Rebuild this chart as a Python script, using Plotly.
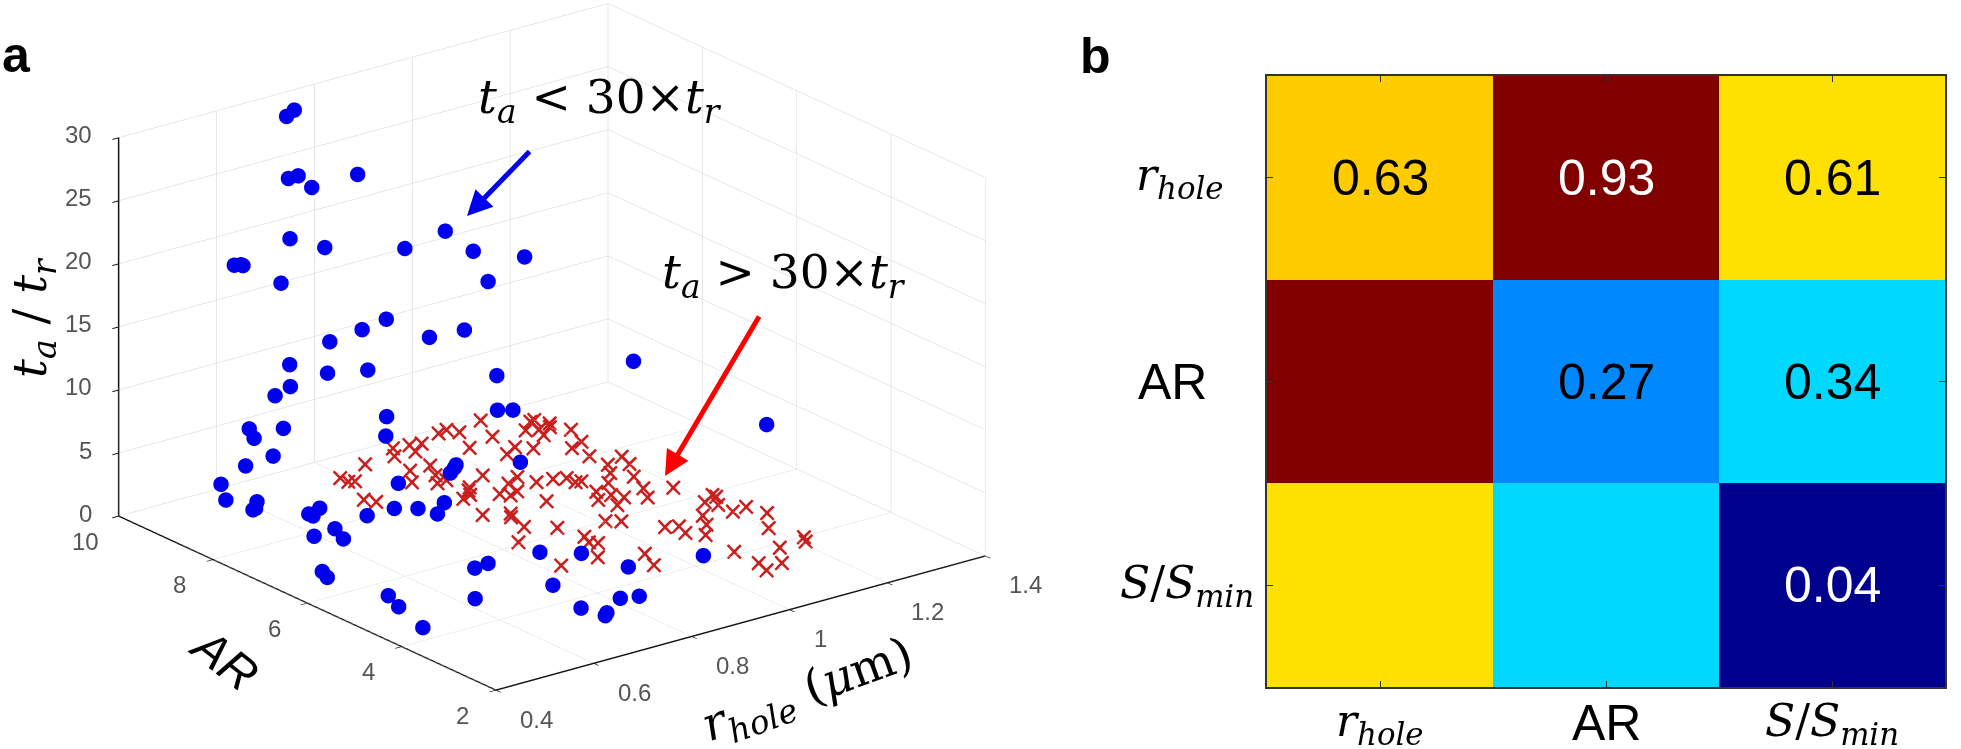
"""
Panel a: 3D scatter of t_a/t_r against r_hole and AR.
Panel b: correlation map of r_hole, AR and S/S_min.
"""
import plotly.graph_objects as go

W = 1961
H = 749

# --- PANEL A DATA ---
R_BLUE = [.72, .71, .68, .70, .78, .72, .91, .69, .71, .81, .89, .94, .58, .59, .59, .93, .66, .80, .74, .87,
          .84, .70, 1.07, .62, .74, .68, .89, .63, .62, .90, .92, .74, 1.24, .60, .61, .58, .72, .59, .89, .80,
          .58, .79, .77, .71, .55, .53, .53, .51, .52, .67, .70, .75, .71, .61, .58, .58, .65, .59, .56, .59,
          .77, .82, .97, .69, .66, .86, .49, .48, .73, .49, .60, .78, .81, .49, .72, .74, .73, .47]
AR_BLUE = [9.6, 9.66, 9.31, 9.31, 8.88, 9.23, 8.37, 9.38, 8.85, 8.19, 7.57, 7.0, 9.42, 9.38, 9.34, 7.67, 9.26, 8.48, 8.37, 7.55,
           7.98, 8.64, 6.04, 8.66, 8.25, 8.48, 7.07, 8.75, 8.97, 7.16, 7.04, 7.85, 4.98, 9.31, 8.69, 9.0, 7.66, 8.7, 6.57, 7.0,
           9.18, 6.93, 6.81, 7.29, 9.39, 9.08, 8.42, 8.24, 8.4, 6.96, 6.77, 6.73, 6.46, 7.92, 7.84, 7.75, 7.33, 7.39, 7.52, 7.21,
           4.91, 4.55, 3.52, 5.18, 5.15, 3.97, 6.62, 6.41, 4.22, 5.22, 4.52, 3.31, 3.22, 5.0, 3.52, 3.18, 3.11, 4.28]
TA_BLUE = [29.5, 29, 25, 25, 25, 24, 20, 20, 20, 20, 20, 20, 19, 19, 19, 17, 17, 14, 14, 14,
           13, 13, 12, 12, 11, 11, 11, 10, 9, 8, 8, 8, 7, 6, 7, 6, 7, 5, 5, 5,
           3.5, 5, 5, 4, 2, 1.5, 2.5, 2.5, 2, 3, 3, 3, 3, 2, 2, 2, 2, 1.5, 1, 1,
           2, 2, 2, 1.5, 1.5, 1.5, .5, .5, 1, 1, .8, 1, 1, .5, .5, .5, .5, .3]

R_RED = [1.13, 1.10, 1.04, 1.07, 1.10, 1.12, 1.16, 1.20, 1.18, 1.17, 1.20, 1.22, 1.17, 1.20, 1.17, 1.07, 1.04, 1.06, .99, .97,
         .96, .94, .92, .86, .79, .79, .80, .90, .87, .94, .92, .90, .92, .76, .77, .89, .92, .93, .98, .87,
         .95, .99, .96, .98, 1.02, .91, .90, .99, 1.03, 1.06, 1.08, 1.08, 1.09, .89, .84, .93, .94, .93, .94, .90,
         .83, 1.01, 1.03, 1.17, 1.21, 1.20, 1.17, 1.15, 1.12, 1.08, 1.06, 1.09, 1.07, 1.10, 1.15, 1.13, 1.19, 1.07, 1.09, 1.08,
         .97, .95, 1.19, 1.22, 1.15, 1.10, 1.20, 1.23, 1.24, 1.20, 1.09, 1.16, 1.09, 1.08, 1.12, 1.21, 1.20, 1.19, 1.21, .91,
         1.22, 1.22, 1.13]
AR_RED = [9.9, 9.34, 9.2, 8.72, 8.86, 8.68, 9.26, 9.49, 9.18, 8.98, 9.16, 8.92, 8.38, 8.49, 8.01, 9.73, 9.86, 9.9, 9.7, 9.75,
          9.52, 9.79, 9.55, 9.55, 9.35, 9.18, 9.14, 9.01, 8.66, 9.0, 8.68, 8.43, 8.45, 8.54, 8.38, 7.78, 7.98, 8.06, 8.3, 7.16,
          7.63, 7.86, 7.5, 7.57, 7.98, 6.98, 6.87, 7.05, 7.68, 7.64, 7.56, 7.37, 7.35, 6.49, 6.09, 6.2, 5.73, 5.53, 5.44, 5.03,
          5.08, 6.01, 5.88, 7.62, 7.74, 7.47, 7.07, 7.36, 7.09, 6.93, 6.68, 6.72, 6.38, 6.55, 6.66, 6.36, 6.44, 5.37, 5.28, 5.04,
          4.76, 4.36, 5.77, 5.84, 5.4, 4.82, 5.28, 5.31, 4.97, 4.52, 4.11, 3.87, 3.59, 3.32, 3.41, 3.84, 5.59, 9.47, 9.27, 7.84,
          3.98, 5.92, 5.11]
TA_RED = [0, 0, 0, 0, 0, 0, 0, 0, 0, 0, 0, 0, 0, 0, 0, 0, 0, 0, 0, 0,
          0, 0, 0, 0, 0, 0, 0, 0, 0, 0, 0, 0, 0, 0, 0, 0, 0, 0, 0, 0,
          0, 0, 0, 0, 0, 0, 0, 0, 0, 0, 0, 0, 0, 0, 0, 0, 0, 0, 0, 0,
          0, 0, 0, 0, 0, 0, 0, 0, 0, 0, 0, 0, 0, 0, 0, 0, 0, 0, 0, 0,
          0, 0, 0, 0, 0, 0, 0, 0, 0, 0, 0, 0, 0, 0, 0, 0, 0, 0, 0, 0,
          0, 0, 0]

R_TICKS = [0.4, 0.6, 0.8, 1, 1.2, 1.4]
AR_TICKS = [2, 4, 6, 8, 10]
TA_TICKS = [0, 5, 10, 15, 20, 25, 30]

# --- PANEL B DATA ---
CORR = [[0.63, 0.93, 0.61],
        [0.93, 0.27, 0.34],
        [0.61, 0.34, 0.04]]
CORR_TEXT = [["0.63", "0.93", "0.61"],
             ["", "0.27", "0.34"],
             ["", "", "0.04"]]
CORR_LABELS = ["<i>r<sub>hole</sub></i>", "AR", "<i>S</i>/<i>S<sub>min</sub></i>"]

JET = [[0, "#00008f"], [0.125, "#0000ff"], [0.375, "#00ffff"], [0.625, "#fff000"], [0.875, "#ff0000"], [1, "#800000"]]

SANS = "Liberation Sans"
SERIF = "DejaVu Serif"
TICK_GRAY = "#555555"


def px(x):
    return x / W


def py(y):
    return 1 - y / H


fig = go.Figure()

# 3D scatter, red first so the blue dots stay on top
fig.add_trace(go.Scatter3d(x=R_RED, y=AR_RED, z=TA_RED, mode="text", text=["×"] * len(R_RED),
                           textposition="middle center", showlegend=False, hoverinfo="skip",
                           textfont=dict(family=SANS, size=34, color="#c8201e")))
fig.add_trace(go.Scatter3d(x=R_BLUE, y=AR_BLUE, z=TA_BLUE, mode="markers", showlegend=False, hoverinfo="skip",
                           marker=dict(symbol="circle", size=9, color="#0000ee", line=dict(width=0))))

# correlation map
fig.add_trace(go.Heatmap(z=CORR, x=[0, 1, 2], y=[0, 1, 2], colorscale=JET, zmin=0.04, zmax=0.93,
                         showscale=False, hoverinfo="skip", xaxis="x", yaxis="y"))

# Tick labels are scene annotations so they stay real text
scene_notes = []
for t in TA_TICKS:
    scene_notes.append(dict(x=0.4, y=10, z=t, text=str(t), showarrow=False, xanchor="right", yanchor="middle",
                            xshift=-25, yshift=3, font=dict(family=SANS, size=24, color=TICK_GRAY)))
for a in AR_TICKS:
    scene_notes.append(dict(x=0.4, y=a, z=0, text=str(a), showarrow=False, xanchor="center", yanchor="middle",
                            xshift=-33, yshift=-25, font=dict(family=SANS, size=24, color=TICK_GRAY)))
for r in R_TICKS:
    scene_notes.append(dict(x=r, y=2, z=0, text=str(r), showarrow=False, xanchor="left", yanchor="middle",
                            xshift=22, yshift=-29, font=dict(family=SANS, size=24, color=TICK_GRAY)))

axis_style = dict(showbackground=False, showspikes=False, zeroline=False, showticklabels=False, title="",
                  gridcolor="#d2d2d2", gridwidth=1, showline=True, linecolor="#111111", linewidth=3,
                  ticks="inside", ticklen=8, tickcolor="#111111", tickwidth=2)

# camera direction worked out from the three axis directions in the picture.
# in orthographic mode the zoom comes from aspectratio, not from the eye distance
EYE_DIST = 3
CENTER_Z = -0.079
eye = dict(x=-0.5706 * EYE_DIST, y=-0.7402 * EYE_DIST, z=0.3556 * EYE_DIST + CENTER_Z)

notes = []
notes.append(dict(x=px(0), y=py(55), text="<b>a</b>", xanchor="left"))
notes.append(dict(x=px(1078), y=py(56), text="<b>b</b>", xanchor="left"))
for n in notes:
    n.update(xref="paper", yref="paper", showarrow=False, yanchor="middle", font=dict(family=SANS, size=50, color="black"))

math_font = dict(family=SERIF, size=47, color="black")
for x, y, text, angle in [(600, 100, "<i>t<sub>a</sub></i> &lt; 30×<i>t<sub>r</sub></i>", 0),
                          (784, 275, "<i>t<sub>a</sub></i> &gt; 30×<i>t<sub>r</sub></i>", 0),
                          (33, 318, "<i>t<sub>a</sub></i> / <i>t<sub>r</sub></i>", -90),
                          (808, 692, "<i>r<sub>hole</sub></i> (<i>μ</i>m)", -20)]:
    notes.append(dict(x=px(x), y=py(y), text=text, textangle=angle, xref="paper", yref="paper", showarrow=False,
                      xanchor="center", yanchor="middle", font=math_font))
notes.append(dict(x=px(225), y=py(659), text="<i>AR</i>", textangle=38, xref="paper", yref="paper", showarrow=False,
                  xanchor="center", yanchor="middle", font=dict(family=SANS, size=48, color="black")))

# arrows
for tip, tail, color in [((467, 216), (531, 150), "#0000ee"), ((665, 476), (760, 315), "#ff0000")]:
    notes.append(dict(x=px(tip[0]), y=py(tip[1]), ax=tail[0] - tip[0], ay=tail[1] - tip[1], xref="paper", yref="paper",
                      axref="pixel", ayref="pixel", text="", showarrow=True, arrowhead=2, arrowsize=1,
                      arrowwidth=5, arrowcolor=color))

# cell values
for i, row in enumerate(CORR_TEXT):
    for j, text in enumerate(row):
        if text:
            color = "white" if CORR[i][j] > 0.9 or CORR[i][j] < 0.1 else "black"
            notes.append(dict(x=j, y=i, xref="x", yref="y", text=text, showarrow=False,
                              font=dict(family=SANS, size=50, color=color)))

# map labels
for i, (label, lx) in enumerate(zip(CORR_LABELS, [1180, 1172, 1187])):
    is_ar = label == "AR"
    fam = SANS if is_ar else SERIF
    size = 50 if is_ar else 44
    notes.append(dict(x=px(lx), y=i, xref="paper", yref="y", text=label, showarrow=False, xanchor="center",
                      font=dict(family=fam, size=size, color="black")))
    notes.append(dict(x=i, y=py(723), xref="x", yref="paper", text=label, showarrow=False, yanchor="middle",
                      font=dict(family=fam, size=size, color="black")))

fig.update_layout(
    width=W,
    height=H,
    margin=dict(l=0, r=0, t=0, b=0),
    paper_bgcolor="white",
    plot_bgcolor="white",
    showlegend=False,
    annotations=notes,
    scene=dict(
        domain=dict(x=[px(52), px(1052)], y=[0, 1]),
        aspectmode="manual",
        aspectratio=dict(x=1.65, y=1.65, z=1.081),
        xaxis=dict(range=[0.4, 1.4], tickvals=R_TICKS, **axis_style),
        yaxis=dict(range=[2, 10], tickvals=AR_TICKS, **axis_style),
        zaxis=dict(range=[0, 30], tickvals=TA_TICKS, **axis_style),
        camera=dict(projection=dict(type="orthographic"), eye=eye, center=dict(x=0, y=0, z=CENTER_Z), up=dict(x=0, y=0, z=1)),
        annotations=scene_notes,
    ),
    xaxis=dict(domain=[px(1267), px(1945)], range=[-0.5, 2.5], tickvals=[0, 1, 2], showticklabels=False,
               ticks="inside", ticklen=6, tickcolor="#333333", showline=True, linecolor="#333333", linewidth=2, mirror="ticks", showgrid=False, zeroline=False),
    yaxis=dict(domain=[py(687), py(76)], range=[2.5, -0.5], tickvals=[0, 1, 2], showticklabels=False,
               ticks="inside", ticklen=6, tickcolor="#333333", showline=True, linecolor="#333333", linewidth=2, mirror="ticks", showgrid=False, zeroline=False),
)

fig.write_html("out.html", config={"displayModeBar": False}, post_script="document.body.style.margin='0';")
